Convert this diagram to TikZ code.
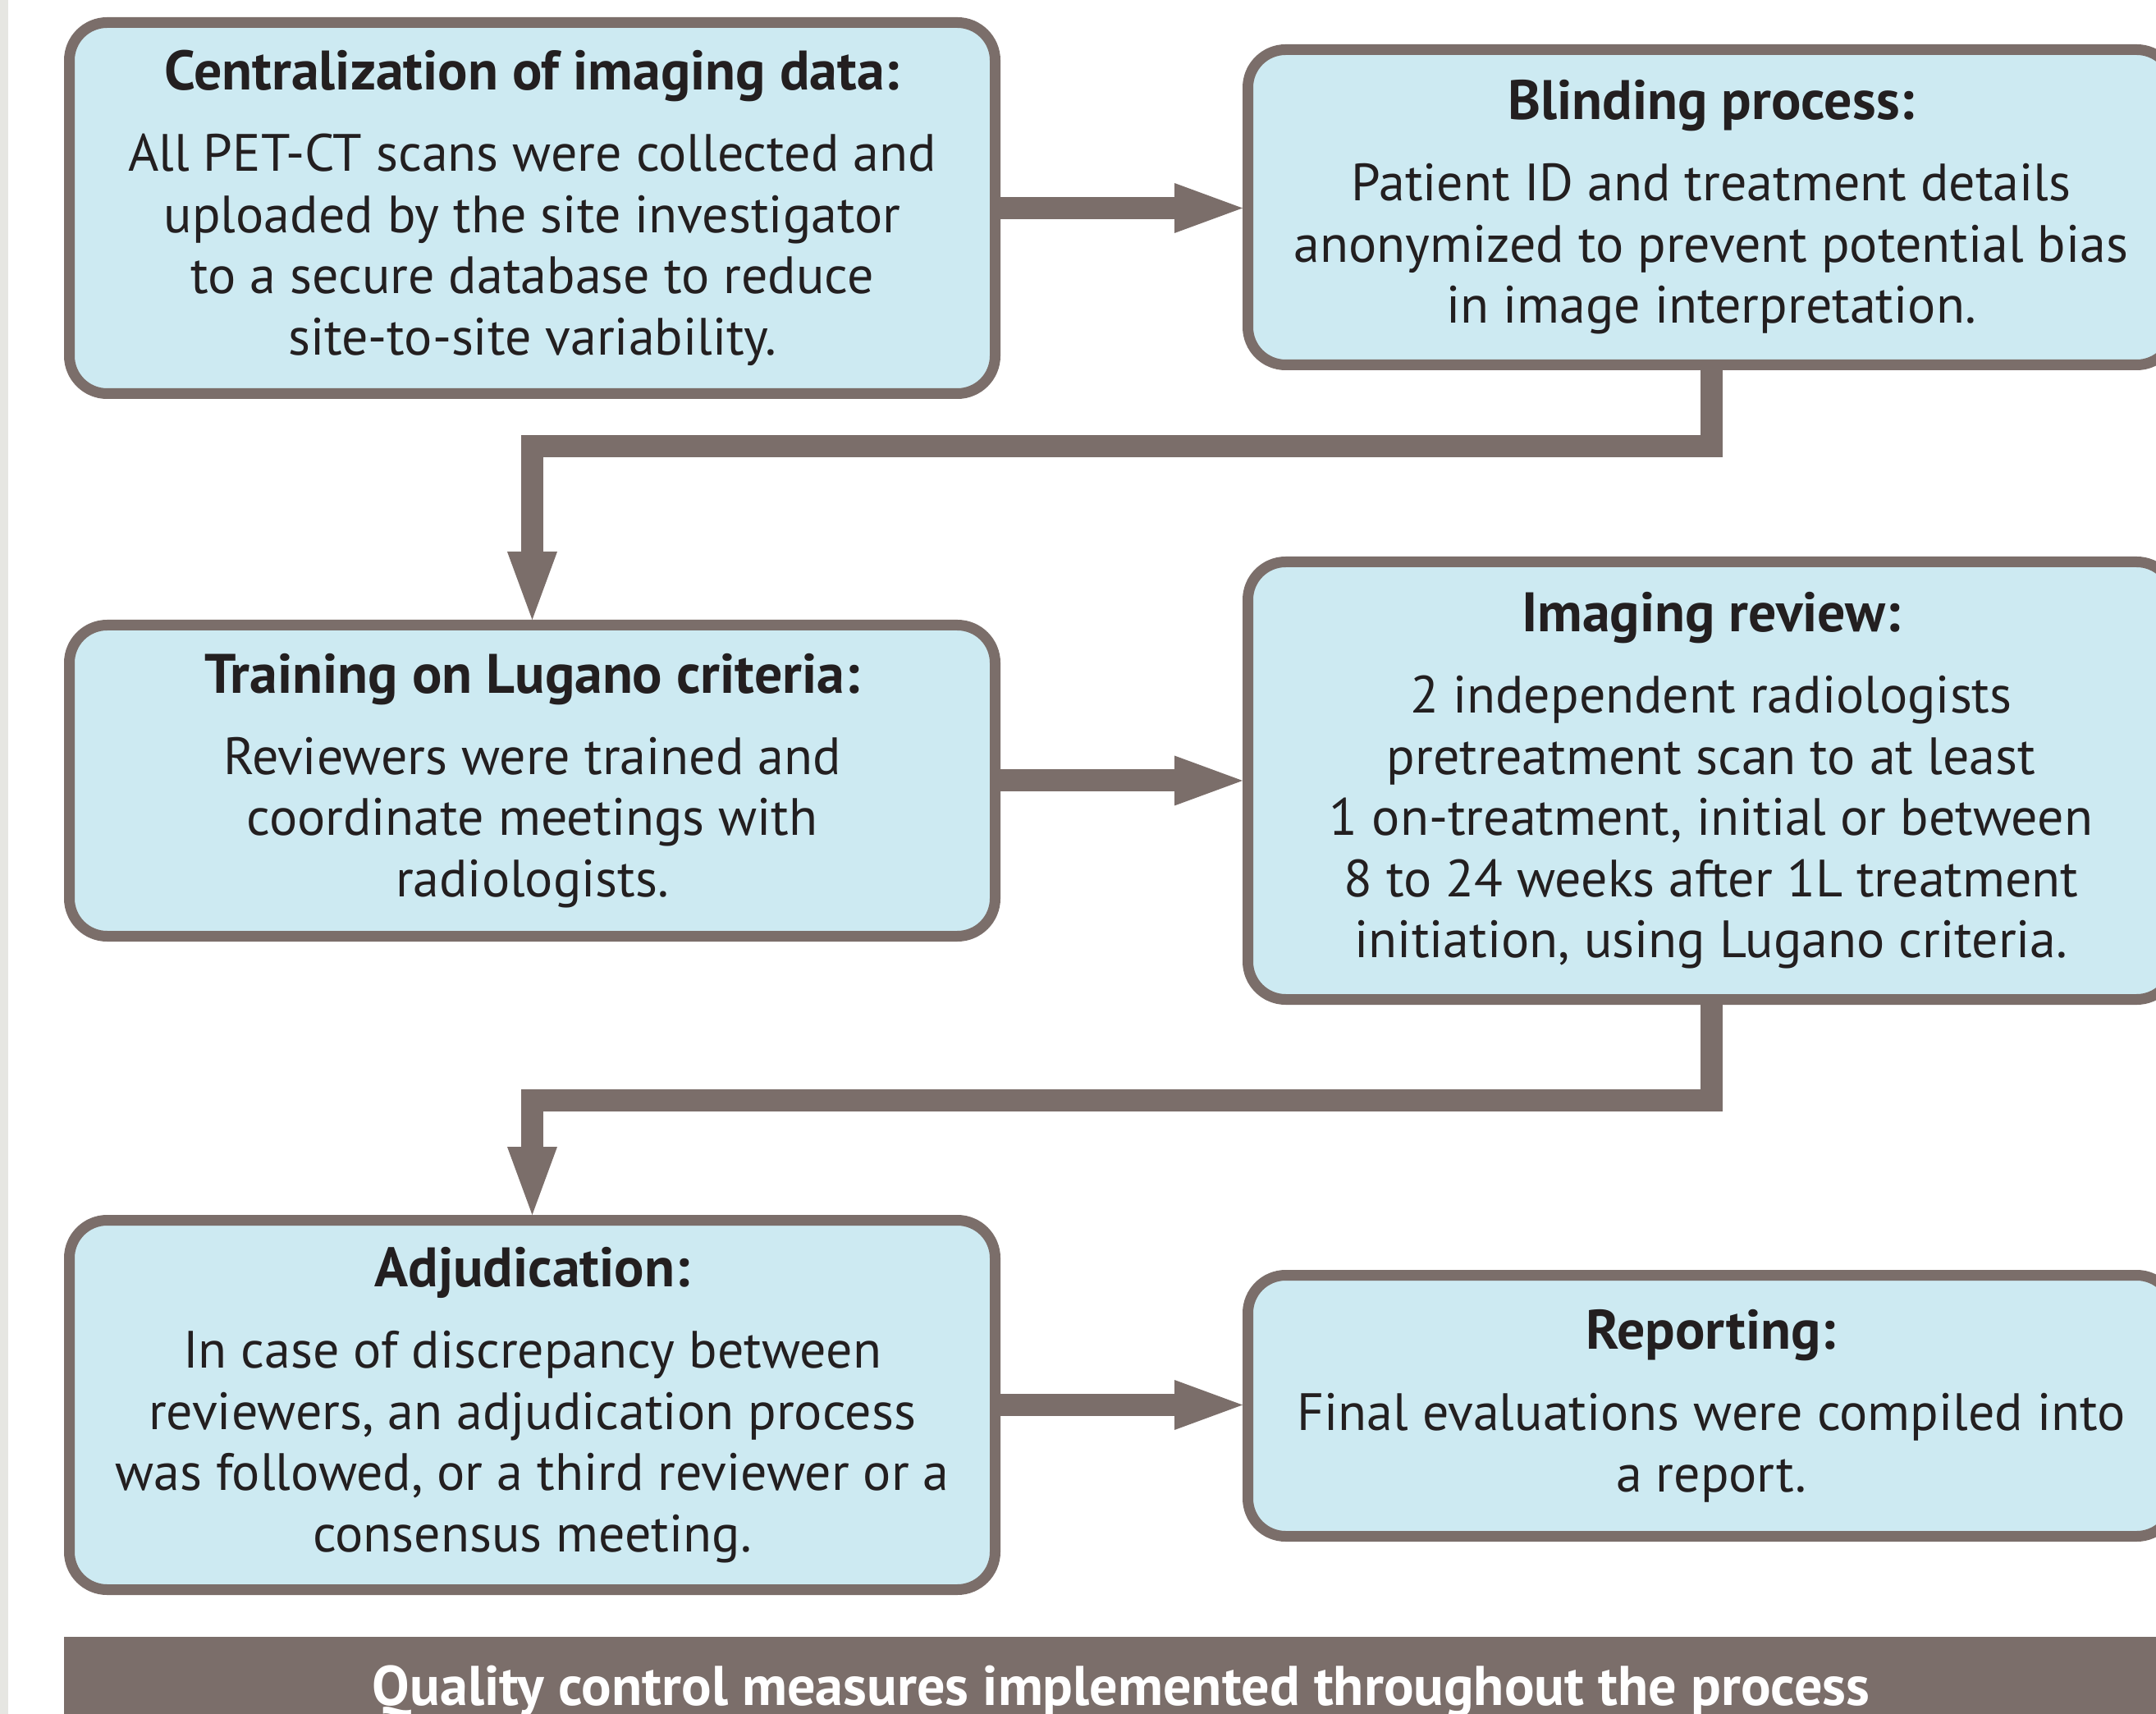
\documentclass[tikz,border=0pt]{standalone}
\usepackage{fontspec}
\setmainfont{PT Sans}
\usetikzlibrary{arrows.meta}
\definecolor{boxgray}{HTML}{7B6E6A}
\definecolor{boxblue}{HTML}{CDEAF2}
\definecolor{textdark}{HTML}{231F20}
\definecolor{edgegray}{HTML}{E6E6E2}
\newcommand{\boxtitle}[1]{{\fontsize{19.3}{21.2}\selectfont\bfseries #1}\\[7pt]}

\begin{document}
\begin{tikzpicture}[
  stepbox/.style={draw=boxgray, fill=boxblue, line width=0.13cm, rounded corners=0.46cm,
    align=center, text=textdark, font=\fontsize{18.2}{21.2}\selectfont, inner sep=0pt},
  leftbox/.style={stepbox, minimum width=11.28cm},
  rightbox/.style={stepbox, minimum width=11.29cm},
  flow/.style={draw=boxgray, line width=0.27cm,
    -{Triangle[length=0.83cm,width=0.61cm,line width=0pt]}},
  qcbar/.style={fill=boxgray, inner sep=0pt, minimum width=26.22cm, minimum height=1.26cm},
  qctext/.style={text=white, font=\fontsize{19.4}{21.2}\selectfont\bfseries, inner sep=0pt}
]
  \useasboundingbox (0,0) rectangle (26.27,-20.88);
  \fill[edgegray] (0,0) rectangle (0.10,-20.88);

  \node[leftbox, minimum height=4.52cm] (central) at (6.485,-2.535)
    {\boxtitle{Centralization of imaging data:}All PET-CT scans were collected and\\
     uploaded by the site investigator\\ to a secure database to reduce\\ site-to-site variability.};
  \node[rightbox, minimum height=3.84cm] (blind) at (20.85,-2.525)
    {\boxtitle{Blinding process:}Patient ID and treatment details\\
     anonymized to prevent potential bias\\ in image interpretation.};
  \node[leftbox, minimum height=3.79cm] (train) at (6.485,-9.51)
    {\boxtitle{Training on Lugano criteria:}Reviewers were trained and\\
     coordinate meetings with\\ radiologists.};
  \node[rightbox, minimum height=5.33cm] (review) at (20.85,-9.51)
    {\boxtitle{Imaging review:}2 independent radiologists\\ pretreatment scan to at least\\
     1 on-treatment, initial or between\\ 8 to 24 weeks after 1L treatment\\
     initiation, using Lugano criteria.};
  \node[leftbox, minimum height=4.50cm] (adjud) at (6.485,-17.115)
    {\boxtitle{Adjudication:}In case of discrepancy between\\ reviewers, an adjudication process\\
     was followed, or a third reviewer or a\\ consensus meeting.};
  \node[rightbox, minimum height=3.18cm] (report) at (20.85,-17.125)
    {\boxtitle{Reporting:}Final evaluations were compiled into\\ a report.};

  \draw[flow] (central.east) -- (central.east -| blind.west);
  \draw[flow] (blind.south) -- ++(0,-0.93) -| (train.north);
  \draw[flow] (train.east) -- (train.east -| review.west);
  \draw[flow] (review.south) -- ++(0,-1.16) -| (adjud.north);
  \draw[flow] (adjud.east) -- (adjud.east -| report.west);

  \node[qcbar] (qc) at (13.89,-20.57) {};
  \node[qctext, anchor=base] (qclabel) at (13.66,-20.77)
    {Quality control measures implemented throughout the process};
\end{tikzpicture}
\end{document}
